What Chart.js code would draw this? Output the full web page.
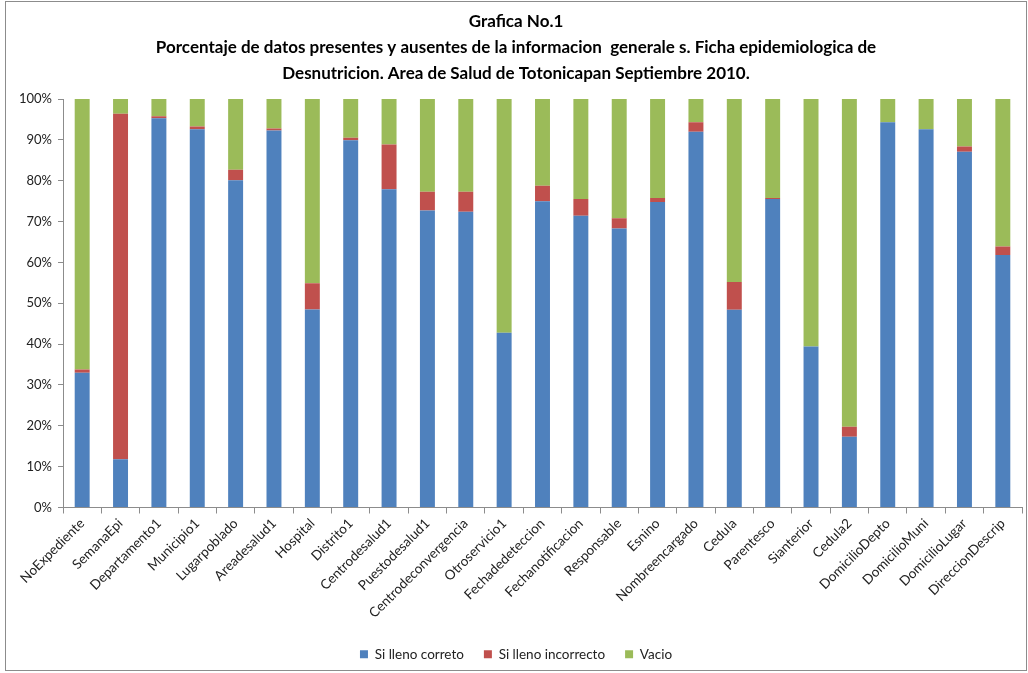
<!DOCTYPE html>
<html><head><meta charset="utf-8">
<script src="https://cdn.jsdelivr.net/npm/chart.js@4.4.0/dist/chart.umd.min.js"></script>
<style>html,body{margin:0;padding:0;background:#fff;} #wrap{width:1028px;height:673px;position:relative;overflow:hidden;}</style>
</head><body><div id="wrap"><canvas id="c" width="1028" height="673"></canvas></div>
<script>
const categories = ["NoExpediente","SemanaEpi","Departamento1","Municipio1","Lugarpoblado","Areadesalud1","Hospital","Distrito1","Centrodesalud1","Puestodesalud1","Centrodeconvergencia","Otroservicio1","Fechadedeteccion","Fechanotificacion","Responsable","Esnino","Nombreencargado","Cedula","Parentesco","Sianterior","Cedula2","DomicilioDepto","DomicilioMuni","DomicilioLugar","DireccionDescrip"];
const siLlenoCorrecto   = [33.0, 11.8, 95.3, 92.6, 80.1, 92.3, 48.5, 89.9, 77.9, 72.7, 72.4, 42.8, 75.0, 71.4, 68.3, 74.8, 92.0, 48.4, 75.5, 39.4, 17.3, 94.3, 92.6, 87.1, 61.8];
const siLlenoIncorrecto = [0.8, 84.6, 0.5, 0.7, 2.6, 0.5, 6.4, 0.6, 11.0, 4.6, 4.9, 0, 3.8, 4.1, 2.5, 1.0, 2.3, 6.8, 0.3, 0, 2.5, 0, 0, 1.3, 2.1];
const vacio             = [66.2, 3.6, 4.2, 6.7, 17.3, 7.2, 45.1, 9.5, 11.1, 22.7, 22.7, 57.2, 21.2, 24.5, 29.2, 24.2, 5.7, 44.8, 24.2, 60.6, 80.2, 5.7, 7.4, 11.6, 36.1];
const seriesNames = ["Si lleno correto", "Si lleno incorrecto", "Vacio"];
const titleLines = ["Grafica No.1", "Porcentaje de datos presentes y ausentes de la informacion  generale s. Ficha epidemiologica de", "Desnutricion. Area de Salud de Totonicapan Septiembre 2010."];
const yTickValues = [0,10,20,30,40,50,60,70,80,90,100];

const FONT = "Lato, 'Open Sans', sans-serif";
const frame = {
  id: 'frame',
  beforeDraw(chart) {
    const c = chart.ctx;
    c.save();
    c.fillStyle = '#fff';
    c.fillRect(0, 0, chart.width, chart.height);
    c.strokeStyle = '#8c8c8c';
    c.lineWidth = 1;
    c.strokeRect(5.5, 1.5, 1021, 669);
    c.restore();
  }
};

new Chart(document.getElementById('c'), {
  type: 'bar',
  data: {
    labels: categories,
    datasets: [
      { label: seriesNames[0], data: siLlenoCorrecto, backgroundColor: '#4F81BD' },
      { label: seriesNames[1], data: siLlenoIncorrecto, backgroundColor: '#C0504D' },
      { label: seriesNames[2], data: vacio, backgroundColor: '#9BBB59' }
    ]
  },
  options: {
    responsive: false,
    devicePixelRatio: 1,
    animation: false,
    categoryPercentage: 1,
    barPercentage: 0.39,
    layout: { padding: { left: 10, right: 6, top: 0, bottom: 2 } },
    plugins: {
      title: {
        display: true,
        text: titleLines,
        color: '#000',
        font: { family: FONT, size: 17, weight: 'bold', lineHeight: 1.55 },
        padding: { top: 8, bottom: 12 }
      },
      legend: {
        position: 'bottom',
        labels: {
          color: '#222',
          font: { family: FONT, size: 13.5 },
          boxWidth: 8, boxHeight: 8, padding: 20
        }
      },
      tooltip: { enabled: false }
    },
    scales: {
      x: {
        stacked: true,
        afterFit(s) { s.height = 120; },
        grid: { display: true, drawOnChartArea: false, offset: true, color: '#8c8c8c', tickLength: 6 },
        border: { display: true, color: '#8c8c8c' },
        ticks: { autoSkip: false, maxRotation: 45, minRotation: 45, color: '#222', font: { family: FONT, size: 13.5 }, padding: 2 }
      },
      y: {
        stacked: true,
        min: 0, max: 100,
        afterFit(s) { s.width = 53; },
        afterBuildTicks(s) { s.ticks = yTickValues.map(v => ({ value: v })); },
        grid: { display: true, drawOnChartArea: false, color: '#8c8c8c', tickLength: 5 },
        border: { display: true, color: '#8c8c8c' },
        ticks: { color: '#222', font: { family: FONT, size: 13 }, padding: 6, callback: v => v + '%' }
      }
    }
  },
  plugins: [frame]
});
</script>
</body></html>
